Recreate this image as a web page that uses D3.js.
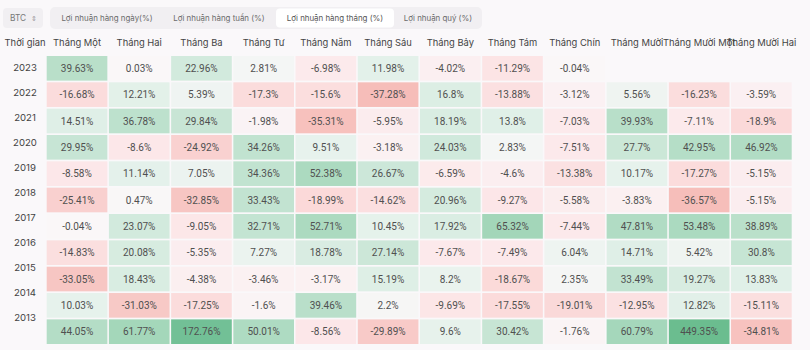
<!DOCTYPE html>
<html><head><meta charset="utf-8">
<script src="https://cdn.jsdelivr.net/npm/d3@7"></script>
<style>
html,body{margin:0;padding:0;background:#faf8fa;}
svg{display:block;}
</style></head>
<body>
<svg id="c" width="810" height="350"></svg>
<script>
const coin = "BTC";
const tabs = ["Lợi nhuận hàng ngày(%)", "Lợi nhuận hàng tuần (%)", "Lợi nhuận hàng tháng (%)", "Lợi nhuận quý (%)"];
const selectedTab = 2;
const firstHeader = "Thời gian";
const months = ["Tháng Một","Tháng Hai","Tháng Ba","Tháng Tư","Tháng Năm","Tháng Sáu","Tháng Bảy","Tháng Tám","Tháng Chín","Tháng Mười","Tháng Mười Một","Tháng Mười Hai"];
const years = [2023,2022,2021,2020,2019,2018,2017,2016,2015,2014,2013];
const v2023 = [39.63, 0.03, 22.96, 2.81, -6.98, 11.98, -4.02, -11.29, -0.04, null, null, null];
const v2022 = [-16.68, 12.21, 5.39, -17.3, -15.6, -37.28, 16.8, -13.88, -3.12, 5.56, -16.23, -3.59];
const v2021 = [14.51, 36.78, 29.84, -1.98, -35.31, -5.95, 18.19, 13.8, -7.03, 39.93, -7.11, -18.9];
const v2020 = [29.95, -8.6, -24.92, 34.26, 9.51, -3.18, 24.03, 2.83, -7.51, 27.7, 42.95, 46.92];
const v2019 = [-8.58, 11.14, 7.05, 34.36, 52.38, 26.67, -6.59, -4.6, -13.38, 10.17, -17.27, -5.15];
const v2018 = [-25.41, 0.47, -32.85, 33.43, -18.99, -14.62, 20.96, -9.27, -5.58, -3.83, -36.57, -5.15];
const v2017 = [-0.04, 23.07, -9.05, 32.71, 52.71, 10.45, 17.92, 65.32, -7.44, 47.81, 53.48, 38.89];
const v2016 = [-14.83, 20.08, -5.35, 7.27, 18.78, 27.14, -7.67, -7.49, 6.04, 14.71, 5.42, 30.8];
const v2015 = [-33.05, 18.43, -4.38, -3.46, -3.17, 15.19, 8.2, -18.67, 2.35, 33.49, 19.27, 13.83];
const v2014 = [10.03, -31.03, -17.25, -1.6, 39.46, 2.2, -9.69, -17.55, -19.01, -12.95, 12.82, -15.11];
const v2013 = [44.05, 61.77, 172.76, 50.01, -8.56, -29.89, 9.6, 30.42, -1.76, 60.79, 449.35, -34.81];
const rows = [v2023, v2022, v2021, v2020, v2019, v2018, v2017, v2016, v2015, v2014, v2013];

const svg = d3.select("#c");
const font = "Inter, 'Noto Sans', sans-serif";

// top controls
svg.append("rect").attr("x",3).attr("y",8).attr("width",40).attr("height",20).attr("rx",4).attr("fill","#f1eff2");
svg.append("text").attr("x",10).attr("y",21).text(coin).attr("font-family",font).attr("font-size",8.3).attr("fill","#777");
svg.append("text").attr("x",34).attr("y",21).text("⇕").attr("font-family","DejaVu Sans").attr("font-size",7).attr("fill","#999").attr("text-anchor","middle");
svg.append("rect").attr("x",50).attr("y",7).attr("width",432).attr("height",22).attr("rx",5).attr("fill","#f1eff2");
const tabX = [107, 219, 335, 438];
const tabW = [0,0,118,0];
tabs.forEach((t,i)=>{
  if(i===selectedTab){
    svg.append("rect").attr("x",tabX[i]-tabW[i]/2).attr("y",8.5).attr("width",tabW[i]).attr("height",19).attr("rx",4).attr("fill","#ffffff");
  }
  svg.append("text").attr("x",tabX[i]).attr("y",20.8).attr("text-anchor","middle").text(t)
    .attr("font-family",font).attr("font-size",7.9).attr("fill", i===selectedTab?"#555":"#6a6a6a");
});

// scales
const x = d3.scaleBand().domain(d3.range(12)).range([46.7, 791.7]).paddingInner(0.025).paddingOuter(0);
const y = d3.scaleBand().domain(years).range([56, 344]).paddingInner(0.065).paddingOuter(0);
const yLab = d3.scalePoint().domain(years).range([67.3, 317.3]);
const color = d3.scaleLinear()
  .domain([-40, -33, -17, -8, 0, 10, 40, 60, 170, 450])
  .range(["#f6b7b2","#f7c6c3","#fbdcdc","#fce8ea","#faf7f8","#e6f2ec","#b8dfc9","#a5d7bb","#72c096","#6bbd8f"])
  .clamp(true);

// headers
svg.append("text").attr("x",25).attr("y",45.5).attr("text-anchor","middle").text(firstHeader)
  .attr("font-family",font).attr("font-size",9.4).attr("fill","#444");
svg.selectAll("text.mh").data(months).join("text").attr("class","mh")
  .attr("x",(d,i)=>x(i)+x.bandwidth()/2).attr("y",45.5).attr("text-anchor","middle").text(d=>d)
  .attr("font-family",font).attr("font-size",9.4).attr("fill","#444");

// year labels
svg.selectAll("text.yl").data(years).join("text").attr("class","yl")
  .attr("x",25).attr("y",d=>yLab(d)+3.6).attr("text-anchor","middle").text(d=>d)
  .attr("font-family",font).attr("font-size",9.6).attr("fill","#444");

// cells
const cells = [];
rows.forEach((r,ri)=>r.forEach((v,ci)=>{ if(v!==null) cells.push({year:years[ri], m:ci, v}); }));
const g = svg.append("g");
g.selectAll("rect").data(cells).join("rect")
  .attr("x",d=>x(d.m)).attr("y",d=>y(d.year)).attr("width",x.bandwidth()).attr("height",y.bandwidth())
  .attr("fill",d=>color(d.v));
g.selectAll("text").data(cells).join("text")
  .attr("x",d=>x(d.m)+x.bandwidth()/2).attr("y",d=>y(d.year)+y.bandwidth()/2+3.6)
  .attr("text-anchor","middle").text(d=>d.v+"%")
  .attr("font-family","Roboto, sans-serif").attr("font-size",10).attr("fill","#505050");
</script>
</body></html>
